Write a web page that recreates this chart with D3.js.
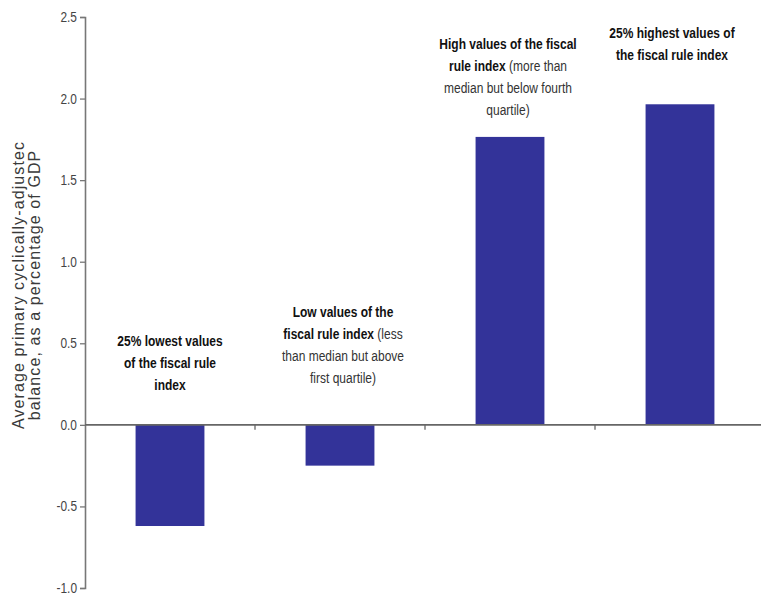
<!DOCTYPE html>
<html><head><meta charset="utf-8">
<script src="https://cdn.jsdelivr.net/npm/d3@7"></script>
<style>body{margin:0;background:#fff;}svg{display:block;}</style>
</head><body>
<script>
const categories = ["q1", "q2", "q3", "q4"];
const values = [-0.62, -0.25, 1.765, 1.965];
const yTicks = [-1.0, -0.5, 0.0, 0.5, 1.0, 1.5, 2.0, 2.5];
// each label: array of lines, each line an array of [text, bold]
const labelLines = [
  [[["25% lowest values", true]], [["of the fiscal rule", true]], [["index", true]]],
  [[["Low values of the", true]], [["fiscal rule index", true], [" (less", false]], [["than median but above", false]], [["first quartile)", false]]],
  [[["High values of the fiscal", true]], [["rule index", true], [" (more than", false]], [["median but below fourth", false]], [["quartile)", false]]],
  [[["25% highest values of", true]], [["the fiscal rule index", true]]]
];
const yTitle = ["Average primary cyclically-adjustec", "balance, as a percentage of GDP"];

const W = 761, H = 596;
const svg = d3.select("body").append("svg").attr("width", W).attr("height", H);
const x = d3.scaleBand().domain(categories).range([85, 765]).paddingInner(0).paddingOuter(0);
const y = d3.scaleLinear().domain([-1, 2.5]).range([588, 17]);
const barW = x.bandwidth() * 0.405;

// bars
svg.selectAll("rect.bar").data(values).enter().append("rect")
  .attr("class", "bar")
  .attr("x", (d, i) => x(categories[i]) + x.bandwidth() / 2 - barW / 2)
  .attr("width", barW)
  .attr("y", d => y(Math.max(0, d)))
  .attr("height", d => Math.abs(y(d) - y(0)))
  .attr("fill", "#333399");

// y axis
const yAxis = svg.append("g").attr("transform", "translate(85,0)")
  .call(d3.axisLeft(y).tickValues(yTicks).tickFormat(d => d3.format(".1f")(d).replace("−", "-")).tickSizeOuter(0).tickSize(5).tickPadding(3));
yAxis.select(".domain").attr("stroke", "#777").attr("stroke-width", 1.6);
yAxis.selectAll(".tick line").attr("stroke", "#777").attr("stroke-width", 1.3);
yAxis.selectAll(".tick text").attr("fill", "#444").attr("font-family", "'Liberation Sans',Arial,sans-serif").attr("font-size", 14)
  .attr("transform", "scale(0.85,1)").attr("x", -8 / 0.85);

// zero axis
const xAxis = svg.append("g").attr("transform", `translate(0,${y(0)})`);
xAxis.append("line").attr("x1", 85).attr("x2", W).attr("stroke", "#666").attr("stroke-width", 1.6);
xAxis.selectAll("line.ct").data(categories.slice(1)).enter().append("line")
  .attr("class", "ct")
  .attr("x1", d => x(d)).attr("x2", d => x(d)).attr("y1", 0).attr("y2", 5)
  .attr("stroke", "#666").attr("stroke-width", 1.3);

// labels
const labelTop = [342, 313, 45, 34];
const lineH = 21.7;
labelLines.forEach((lines, i) => {
  const cx = x(categories[i]) + x.bandwidth() / 2 + [0, 3, -2, -8][i];
  lines.forEach((segs, j) => {
    const g = svg.append("g").attr("transform", `translate(${cx},${labelTop[i] + j * lineH}) scale(0.8,1)`);
    const t = g.append("text")
      .attr("x", 0).attr("y", 0)
      .attr("text-anchor", "middle").attr("dominant-baseline", "middle")
      .attr("font-family", "'Liberation Sans',Arial,sans-serif")
      .attr("font-size", 15).attr("fill", "#111");
    segs.forEach(([s, b]) => {
      t.append("tspan").text(s).attr("font-weight", b ? "bold" : "normal").attr("fill", b ? "#111" : "#333");
    });
  });
});

// y title
const tt = svg.append("text").attr("transform", "translate(18,285) rotate(-90)")
  .attr("text-anchor", "middle").attr("font-family", "'Liberation Sans',Arial,sans-serif")
  .attr("font-size", 16).attr("fill", "#3a3a3a");
yTitle.forEach((s, j) => {
  tt.append("tspan").attr("x", 0).attr("dy", j === 0 ? "0.35em" : 16).attr("letter-spacing", 1.1).text(s);
});
</script>
</body></html>
